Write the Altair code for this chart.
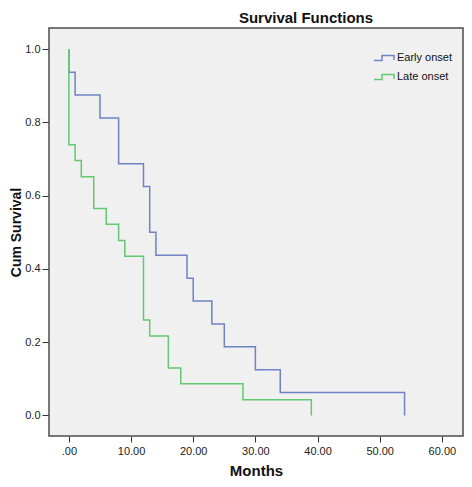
import altair as alt
import pandas as pd

# Kaplan-Meier steps
early_time = [0, 0, 1, 5, 8, 12, 13, 14, 19, 20, 23, 25, 30, 34, 54]
early_surv = [1.0, 0.9375, 0.875, 0.8125, 0.6875, 0.625, 0.5, 0.4375, 0.375,
              0.3125, 0.25, 0.1875, 0.125, 0.0625, 0.0]
late_time = [0, 0, 1, 2, 4, 6, 8, 9, 12, 13, 16, 18, 28, 39]
late_surv = [1.0, 0.739, 0.696, 0.652, 0.565, 0.522, 0.478, 0.435, 0.261,
             0.217, 0.130, 0.087, 0.043, 0.0]
groups = ["Early onset", "Late onset"]
colors = ["#6f82c6", "#62c872"]
x_ticks = [0, 10, 20, 30, 40, 50, 60]
y_ticks = [0.0, 0.2, 0.4, 0.6, 0.8, 1.0]
chart_title = "Survival Functions"

W, H = 414, 408

rows = []
for i, (t, s) in enumerate(zip(early_time, early_surv)):
    rows.append({"group": groups[0], "Months": t, "surv": s, "order": i})
for i, (t, s) in enumerate(zip(late_time, late_surv)):
    rows.append({"group": groups[1], "Months": t, "surv": s, "order": i})
df = pd.DataFrame(rows)

font = "Liberation Sans"

bg = alt.Chart(pd.DataFrame({"k": [0]})).mark_rect(
    fill="#f0f0f0", stroke="#4d4d4d", strokeWidth=1.5
).encode(x=alt.value(0), x2=alt.value(W), y=alt.value(0), y2=alt.value(H))

lines = alt.Chart(df).mark_line(interpolate="step-after", strokeWidth=1.5).encode(
    x=alt.X("Months:Q",
            scale=alt.Scale(domain=[-3.2, 63.4], nice=False, zero=False),
            axis=alt.Axis(title="Months", values=x_ticks,
                          labelExpr="datum.value == 0 ? '.00' : format(datum.value, '.2f')",
                          grid=False, domain=False, tickSize=6, tickColor="#333333",
                          labelFontSize=11, labelColor="#222222", labelFont=font,
                          labelPadding=3, titleFont=font, titleFontSize=15,
                          titleFontWeight="bold", titleColor="#111111",
                          titlePadding=7)),
    y=alt.Y("surv:Q",
            scale=alt.Scale(domain=[-0.056, 1.058], nice=False, zero=False),
            axis=alt.Axis(title="Cum Survival", values=y_ticks, format=".1f",
                          grid=False, domain=False, tickSize=7, tickColor="#333333",
                          labelFontSize=11, labelColor="#222222", labelFont=font,
                          labelPadding=2, titleFont=font, titleFontSize=14,
                          titleFontWeight="bold", titleColor="#111111",
                          titlePadding=1)),
    color=alt.Color("group:N",
                    scale=alt.Scale(domain=groups, range=colors),
                    legend=alt.Legend(title=None, orient="none", legendX=324, legendY=19,
                                      symbolType="M-1,0.25H-0.2V-0.25H1V0.2",
                                      symbolSize=400, symbolStrokeWidth=1.5,
                                      symbolFillColor="transparent",
                                      labelFont=font, labelFontSize=11,
                                      labelColor="#111111", labelOffset=2,
                                      rowPadding=2, padding=0)),
    order="order:Q",
)

title = alt.Chart(pd.DataFrame({"t": [chart_title]})).mark_text(
    font=font, fontSize=15, fontWeight="bold", color="#111111",
    align="center", baseline="alphabetic"
).encode(text="t:N", x=alt.value(257), y=alt.value(-5))

chart = alt.layer(bg, lines, title).properties(
    width=W,
    height=H,
    background="white",
    padding={"left": 41, "top": 20, "right": 1, "bottom": 43},
    autosize=alt.AutoSizeParams(type="none"),
).configure_view(
    strokeOpacity=0
)

chart.save("out.html", embed_options={"renderer": "svg", "actions": False})
